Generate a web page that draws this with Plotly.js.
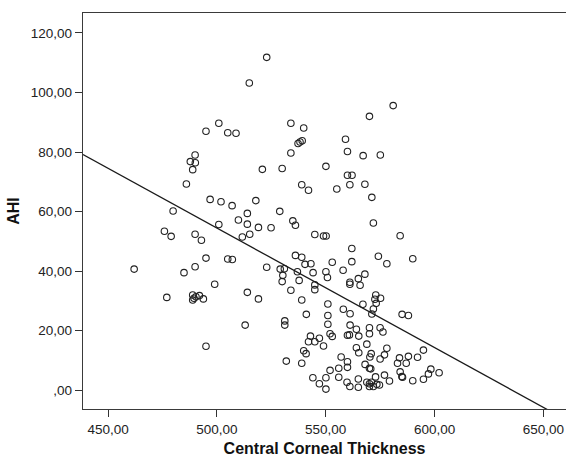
<!DOCTYPE html>
<html>
<head>
<meta charset="utf-8">
<script src="https://cdn.plot.ly/plotly-3.0.1.min.js"></script>
<style>
  html, body { margin: 0; padding: 0; background: #ffffff; }
  #chart { width: 566px; height: 462px; }
</style>
</head>
<body>
<div id="chart"></div>
<script>
// Central Corneal Thickness (x) and AHI (y)
var cct = [
  495.0, 500.9, 505.0, 508.8, 522.9, 514.9, 581.0, 570.1, 534.0, 539.9,
  537.3, 538.2, 539.2, 559.1, 534.0, 560.0, 567.2, 575.1, 490.0, 487.8,
  490.1, 488.9, 486.0, 496.9, 501.9, 507.0, 479.9, 509.9, 500.9, 511.7,
  475.9, 479.0, 490.0, 492.9, 495.0, 505.0, 507.1, 462.0, 490.0, 484.9,
  520.9, 530.0, 550.1, 560.0, 562.1, 561.1, 568.0, 539.0, 542.1, 555.1,
  571.2, 517.9, 514.0, 528.9, 514.0, 534.9, 536.1, 519.1, 524.9, 571.9,
  515.1, 545.0, 549.0, 550.2, 562.0, 536.1, 539.0, 574.2, 578.1, 540.5,
  543.2, 553.0, 562.0, 522.9, 529.1, 531.0, 537.0, 544.2, 550.1, 558.0,
  568.0, 530.3, 550.8, 565.0, 537.8, 584.2, 590.0, 499.0, 477.0, 488.9,
  489.5, 488.9, 492.0, 493.8, 490.4, 495.0, 530.0, 561.1, 561.1, 565.8,
  514.0, 519.1, 513.0, 534.0, 539.0, 541.1, 531.2, 531.2, 545.0, 545.0,
  551.0, 551.0, 551.0, 558.1, 561.2, 567.1, 571.9, 571.2, 573.0, 572.6,
  573.2, 575.2, 561.2, 564.1, 560.9, 560.0, 565.2, 570.1, 570.1, 575.0,
  576.3, 543.0, 547.1, 542.1, 545.0, 549.0, 552.0, 553.0, 568.9, 564.1,
  565.2, 578.1, 577.0, 570.3, 570.9, 575.0, 539.9, 541.0, 531.9, 539.0,
  557.1, 560.0, 560.0, 568.1, 570.1, 570.7, 556.0, 552.0, 544.1, 547.1,
  550.1, 550.1, 556.0, 559.8, 561.1, 565.0, 565.0, 568.9, 570.1, 571.0,
  570.1, 571.9, 573.5, 574.7, 572.9, 577.0, 579.3, 585.1, 588.0, 594.9,
  583.9, 588.0, 592.2, 583.0, 587.0, 584.2, 585.0, 585.3, 590.0, 594.9,
  597.2, 598.3, 602.1
];
var ahi = [
  87.0, 89.7, 86.5, 86.3, 111.8, 103.2, 95.6, 92.0, 89.7, 88.1,
  82.9, 83.4, 83.8, 84.3, 79.7, 80.2, 78.8, 79.0, 79.0, 76.8,
  76.4, 74.1, 69.3, 64.1, 63.3, 62.0, 60.2, 57.2, 55.7, 51.5,
  53.4, 51.7, 52.4, 50.4, 44.4, 44.1, 43.9, 40.7, 41.5, 39.5,
  74.2, 74.5, 75.2, 72.2, 72.2, 69.0, 69.2, 69.0, 67.2, 67.6,
  64.8, 63.7, 59.4, 60.1, 55.8, 56.9, 55.4, 54.7, 54.6, 56.2,
  52.4, 52.3, 51.8, 51.8, 47.6, 45.3, 44.7, 45.0, 42.5, 42.3,
  42.5, 43.0, 43.2, 41.3, 40.7, 40.8, 39.8, 39.5, 39.8, 40.3,
  39.0, 38.6, 37.9, 37.5, 36.9, 51.9, 44.2, 35.6, 31.2, 32.0,
  30.9, 30.3, 31.8, 30.7, 31.4, 14.8, 36.5, 36.3, 35.6, 35.3,
  32.9, 30.7, 21.9, 33.6, 30.3, 25.5, 23.3, 21.9, 35.4, 33.8,
  29.0, 25.1, 22.2, 27.2, 25.7, 28.9, 27.3, 25.6, 32.0, 30.6,
  29.2, 30.9, 21.9, 20.5, 18.6, 18.5, 18.2, 21.0, 19.0, 21.0,
  19.6, 18.2, 17.5, 16.3, 16.3, 14.9, 19.0, 18.1, 15.5, 14.3,
  12.6, 14.1, 11.9, 11.2, 12.3, 10.5, 13.3, 12.3, 9.8, 9.1,
  11.2, 9.6, 7.7, 8.7, 7.4, 7.2, 7.4, 6.7, 4.2, 2.2,
  4.2, 0.4, 4.4, 2.7, 1.3, 3.8, 1.0, 2.7, 2.2, 2.7,
  1.3, 1.3, 2.0, 1.8, 4.5, 5.1, 3.1, 25.5, 25.1, 13.5,
  10.9, 11.4, 11.1, 9.1, 9.1, 6.2, 4.6, 4.4, 3.2, 3.7,
  5.5, 7.1, 5.9
];

// Linear fit line
var fitIntercept = 255.3;
var fitSlope = -0.4016;

// Axis ticks
var xTickVals = [450, 500, 550, 600, 650];
var xTickText = ["450,00", "500,00", "550,00", "600,00", "650,00"];
var yTickVals = [0, 20, 40, 60, 80, 100, 120];
var yTickText = [",00", "20,00", "40,00", "60,00", "80,00", "100,00", "120,00"];

var xRange = [438.5, 660.4];
var yRange = [-6.28, 126.7];

var fitX = [xRange[0], xRange[1]];
var fitY = fitX.map(function (v) { return fitIntercept + fitSlope * v; });

var traces = [
  {
    type: "scatter",
    mode: "markers",
    x: cct,
    y: ahi,
    marker: {
      symbol: "circle-open",
      size: 6.5,
      color: "#222222",
      line: { width: 1.1, color: "#222222" }
    },
    hoverinfo: "x+y",
    showlegend: false
  },
  {
    type: "scatter",
    mode: "lines",
    x: fitX,
    y: fitY,
    line: { color: "#1a1a1a", width: 1.3 },
    hoverinfo: "skip",
    showlegend: false
  }
];

var layout = {
  width: 566,
  height: 462,
  margin: { l: 83, r: 0, t: 13, b: 53 },
  paper_bgcolor: "#ffffff",
  plot_bgcolor: "#ffffff",
  font: { family: "Liberation Sans, Arial, sans-serif", size: 13.5, color: "#222222" },
  showlegend: false,
  xaxis: {
    range: xRange,
    tickmode: "array",
    tickvals: xTickVals,
    ticktext: xTickText,
    ticks: "outside",
    ticklen: 7,
    tickwidth: 1,
    tickcolor: "#333333",
    showgrid: false,
    zeroline: false,
    showline: true,
    linecolor: "#3a3a3a",
    linewidth: 1.3,
    mirror: true,
    tickfont: { size: 13.5, color: "#222222" },
    title: { text: "Central Corneal Thickness", font: { size: 16, color: "#111111", weight: "bold" }, standoff: 7 }
  },
  yaxis: {
    range: yRange,
    tickmode: "array",
    tickvals: yTickVals,
    ticktext: yTickText,
    ticks: "outside",
    ticklen: 7,
    tickwidth: 1,
    tickcolor: "#333333",
    showgrid: false,
    zeroline: false,
    showline: true,
    linecolor: "#3a3a3a",
    linewidth: 1.3,
    mirror: false,
    tickfont: { size: 13.5, color: "#222222" },
    title: { text: "AHI", font: { size: 16, color: "#111111", weight: "bold" }, standoff: 7 }
  }
};

Plotly.newPlot("chart", traces, layout, { displayModeBar: false, staticPlot: true });
</script>
</body>
</html>
